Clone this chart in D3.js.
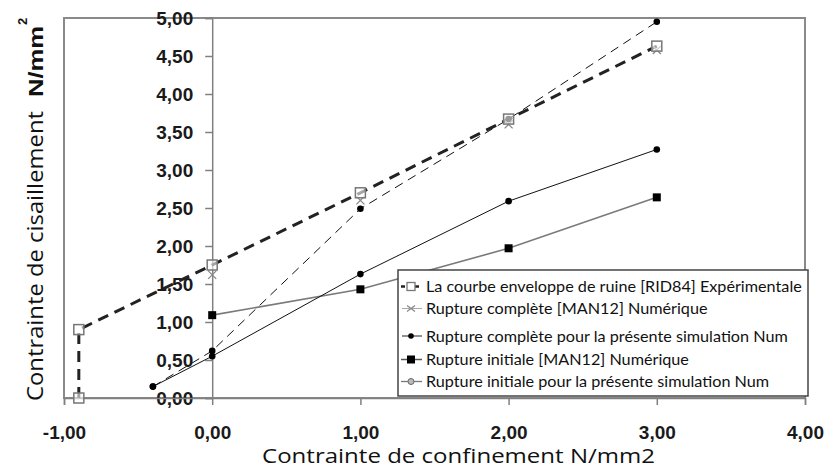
<!DOCTYPE html>
<html>
<head>
<meta charset="utf-8">
<script src="https://cdn.jsdelivr.net/npm/d3@7"></script>
<style>
  html, body { margin: 0; padding: 0; background: #fff; }
  svg { display: block; }
</style>
</head>
<body>
<svg id="chart" width="833" height="470"></svg>
<script>
// ---- Data ----
const envX = [-0.9, -0.9, 0, 1, 2, 3];
const envY = [0.00, 0.90, 1.75, 2.70, 3.67, 4.63];
const manCompX = [0, 1, 2, 3];
const manCompY = [1.62, 2.60, 3.60, 4.58];
const presCompX = [-0.4, 0, 1, 2, 3];
const presCompY = [0.15, 0.62, 2.49, 3.67, 4.95];
const manInitX = [0, 1, 2, 3];
const manInitY = [1.09, 1.43, 1.97, 2.64];
const presInitX = [-0.4, 0, 1, 2, 3];
const presInitY = [0.15, 0.55, 1.63, 2.59, 3.27];

const xTicks = [-1, 0, 1, 2, 3, 4];
const yTicks = [0, 0.5, 1, 1.5, 2, 2.5, 3, 3.5, 4, 4.5, 5];

const legendLabels = [
  "La courbe enveloppe de ruine [RID84] Expérimentale",
  "Rupture complète [MAN12] Numérique",
  "Rupture complète pour la présente simulation Num",
  "Rupture initiale [MAN12] Numérique",
  "Rupture initiale pour la présente simulation Num"
];
const xTitle = "Contrainte de confinement N/mm2";
const yTitle = "Contrainte de cisaillement";
const yUnit = "N/mm";
const yUnitExp = "2";

// ---- Scales ----
const svg = d3.select("#chart");
const x = d3.scaleLinear().domain([-1, 4]).range([64, 805]);
const y = d3.scaleLinear().domain([0, 5]).range([398, 18]);
const fmt = v => d3.format(".2f")(v).replace(".", ",").replace("\u2212", "-");
const zip = (a, b) => a.map((v, i) => [v, b[i]]);

// Plot frame
svg.append("rect")
  .attr("x", x(-1)).attr("y", y(5))
  .attr("width", x(4) - x(-1)).attr("height", y(0) - y(5))
  .attr("fill", "#fff").attr("stroke", "#8a8a8a").attr("stroke-width", 2);

// Y axis at x = 0
const yAxis = svg.append("g")
  .attr("transform", `translate(${x(0)},0)`)
  .call(d3.axisLeft(y).tickValues(yTicks).tickFormat(fmt).tickSize(7).tickPadding(12));
yAxis.select(".domain").attr("stroke", "#808080").attr("stroke-width", 1.5);
yAxis.selectAll(".tick line").attr("stroke", "#808080").attr("stroke-width", 1.5);
yAxis.selectAll("text")
  .attr("font-family", "Liberation Sans, Arial, sans-serif")
  .attr("font-weight", "bold").attr("font-size", 19).attr("fill", "#1a1a1a");

// X axis at y = 0
const xAxis = svg.append("g")
  .attr("transform", `translate(0,${y(0)})`)
  .call(d3.axisBottom(x).tickValues(xTicks).tickFormat(fmt).tickSize(7).tickPadding(21));
xAxis.select(".domain").attr("stroke", "#808080").attr("stroke-width", 1.5);
xAxis.selectAll(".tick line").attr("stroke", "#808080").attr("stroke-width", 1.5);
xAxis.selectAll("text")
  .attr("font-family", "Liberation Sans, Arial, sans-serif")
  .attr("font-weight", "bold").attr("font-size", 19).attr("fill", "#1a1a1a");

const line = d3.line().x(d => x(d[0])).y(d => y(d[1]));
const g = svg.append("g");

// Rupture initiale [MAN12] : gray solid + black squares
g.append("path").datum(zip(manInitX, manInitY)).attr("d", line)
  .attr("fill", "none").attr("stroke", "#7a7a7a").attr("stroke-width", 1.6);
// Rupture initiale présente : black thin solid + dots
g.append("path").datum(zip(presInitX, presInitY)).attr("d", line)
  .attr("fill", "none").attr("stroke", "#111").attr("stroke-width", 1);
// Rupture complète présente : thin dashed + dots
g.append("path").datum(zip(presCompX, presCompY)).attr("d", line)
  .attr("fill", "none").attr("stroke", "#111").attr("stroke-width", 1)
  .attr("stroke-dasharray", "9,6");
// Enveloppe : thick dashed
g.append("path").datum(zip(envX, envY)).attr("d", line)
  .attr("fill", "none").attr("stroke", "#222").attr("stroke-width", 3)
  .attr("stroke-dasharray", "11,7");

// markers
g.selectAll(".sq").data(zip(manInitX, manInitY)).join("rect")
  .attr("x", d => x(d[0]) - 4).attr("y", d => y(d[1]) - 4)
  .attr("width", 8).attr("height", 8).attr("fill", "#000");
g.selectAll(".dotI").data(zip(presInitX, presInitY)).join("circle")
  .attr("cx", d => x(d[0])).attr("cy", d => y(d[1])).attr("r", 3.3).attr("fill", "#000");
g.selectAll(".dotC").data(zip(presCompX, presCompY)).join("circle")
  .attr("cx", d => x(d[0])).attr("cy", d => y(d[1])).attr("r", 3.3).attr("fill", "#000");
g.selectAll(".xm").data(zip(manCompX, manCompY)).join("path")
  .attr("transform", d => `translate(${x(d[0])},${y(d[1])})`)
  .attr("d", "M-4,-4L4,4M-4,4L4,-4")
  .attr("stroke", "#888").attr("stroke-width", 1.3);
g.selectAll(".os").data(zip(envX, envY)).join("rect")
  .attr("x", d => x(d[0]) - 5).attr("y", d => y(d[1]) - 5)
  .attr("width", 10).attr("height", 10)
  .attr("fill", "#fff").attr("fill-opacity", 0.6).attr("stroke", "#777").attr("stroke-width", 1.5);

// ---- Legend ----
const lg = svg.append("g");
lg.append("rect").attr("x", 398).attr("y", 270).attr("width", 410).attr("height", 126)
  .attr("fill", "#fff").attr("stroke", "#444").attr("stroke-width", 1.5);
const rowY = [286.5, 308.5, 336, 359.5, 381.5];
legendLabels.forEach((lab, i) => {
  const cy = rowY[i];
  const gi = lg.append("g");
  if (i === 0) {
    gi.append("line").attr("x1", 401).attr("x2", 422).attr("y1", cy).attr("y2", cy)
      .attr("stroke", "#222").attr("stroke-width", 2.5).attr("stroke-dasharray", "4,3");
    gi.append("rect").attr("x", 407).attr("y", cy - 4).attr("width", 8).attr("height", 8)
      .attr("fill", "#fff").attr("stroke", "#777").attr("stroke-width", 1.3);
  } else if (i === 1) {
    gi.append("line").attr("x1", 402).attr("x2", 422).attr("y1", cy).attr("y2", cy)
      .attr("stroke", "#aaa").attr("stroke-width", 1);
    gi.append("path").attr("transform", `translate(411,${cy})`).attr("d", "M-4,-3L4,3M-4,3L4,-3")
      .attr("stroke", "#888").attr("stroke-width", 1.2);
  } else if (i === 2) {
    gi.append("line").attr("x1", 402).attr("x2", 422).attr("y1", cy).attr("y2", cy)
      .attr("stroke", "#222").attr("stroke-width", 1);
    gi.append("circle").attr("cx", 411).attr("cy", cy).attr("r", 2.8).attr("fill", "#000");
  } else if (i === 3) {
    gi.append("line").attr("x1", 401).attr("x2", 422).attr("y1", cy).attr("y2", cy)
      .attr("stroke", "#555").attr("stroke-width", 1.5);
    gi.append("rect").attr("x", 407).attr("y", cy - 4).attr("width", 8).attr("height", 8).attr("fill", "#000");
  } else {
    gi.append("line").attr("x1", 401).attr("x2", 422).attr("y1", cy).attr("y2", cy)
      .attr("stroke", "#777").attr("stroke-width", 1.3);
    gi.append("circle").attr("cx", 411).attr("cy", cy).attr("r", 3).attr("fill", "#bbb")
      .attr("stroke", "#666").attr("stroke-width", 1);
  }
  gi.append("text").attr("x", 426).attr("y", cy).attr("dy", "0.35em")
    .attr("font-family", "Lato, 'Open Sans', sans-serif").attr("font-size", 16.2)
    .attr("fill", "#111").text(lab);
});

// ---- Titles ----
svg.append("text").attr("x", 262).attr("y", 463)
  .attr("font-family", "'Open Sans', Lato, sans-serif").attr("font-size", 20.5)
  .attr("textLength", 393).attr("lengthAdjust", "spacingAndGlyphs")
  .attr("fill", "#111").text(xTitle);

svg.append("text")
  .attr("transform", "translate(43,401) rotate(-90)")
  .attr("font-family", "'Open Sans', Lato, sans-serif").attr("font-size", 22.5)
  .attr("textLength", 290).attr("lengthAdjust", "spacingAndGlyphs")
  .attr("fill", "#111").text(yTitle);

svg.append("text")
  .attr("transform", "translate(43,97) rotate(-90)")
  .attr("font-family", "Liberation Sans, Arial, sans-serif").attr("font-weight", "bold")
  .attr("font-size", 20)
  .attr("textLength", 71).attr("lengthAdjust", "spacingAndGlyphs")
  .attr("fill", "#111").text(yUnit);
svg.append("text")
  .attr("transform", "translate(27,25) rotate(-90)")
  .attr("font-family", "Liberation Sans, Arial, sans-serif").attr("font-weight", "bold")
  .attr("font-size", 13).attr("fill", "#111").text(yUnitExp);
</script>
</body>
</html>
